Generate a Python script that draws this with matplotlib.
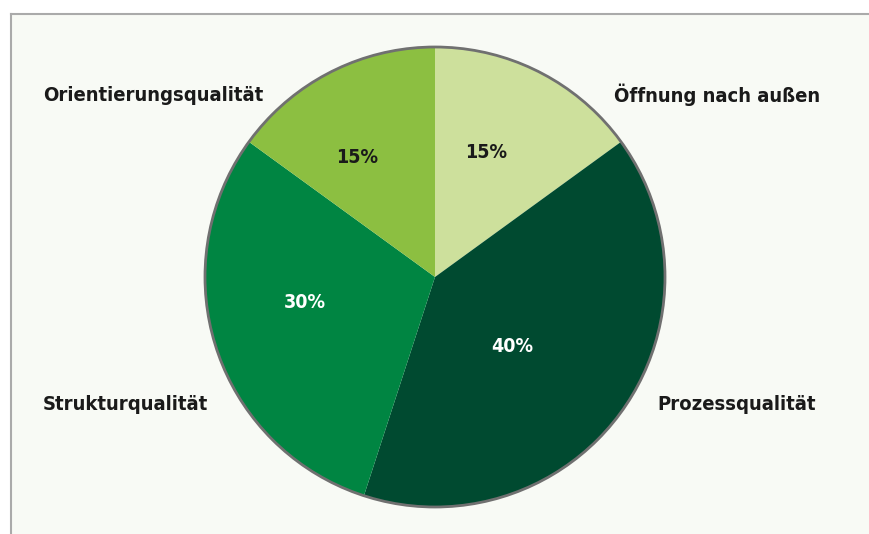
import matplotlib
matplotlib.use("Agg")
import matplotlib.pyplot as plt
from matplotlib.patches import Circle

# shares of the four quality dimensions, clockwise from 12 o'clock
labels = ["Öffnung nach außen", "Prozessqualität", "Strukturqualität", "Orientierungsqualität"]
shares = [15, 40, 30, 15]
colors = ["#cde09c", "#004a30", "#008542", "#8cbf41"]
pct_colors = ["#1a1a1a", "white", "white", "#1a1a1a"]

plt.rcParams['font.family'] = ['DejaVu Sans']
plt.rcParams['font.stretch'] = 'condensed'

W, H = 870, 534
fig = plt.figure(figsize=(W / 100, H / 100), dpi=100)
fig.patch.set_facecolor("white")
ax = fig.add_axes([0, 0, 1, 1])

# panel background with a grey rule along top and left
ax.add_patch(plt.Rectangle((11, 0), W - 11, H - 14, facecolor="#f8faf5", edgecolor="none", zorder=0))
ax.plot([11, W], [H - 14, H - 14], color="#aaaaaa", lw=1.5, zorder=1)
ax.plot([11, 11], [0, H - 14], color="#aaaaaa", lw=1.5, zorder=1)

cx, cy, r = 435, H - 277, 230
wedges, texts, autotexts = ax.pie(shares, colors=colors, startangle=90, counterclock=False,
                                  center=(cx, cy), radius=r, autopct="%d%%", pctdistance=0.58,
                                  wedgeprops=dict(linewidth=0), frame=True)
ax.set_xlim(0, W)
ax.set_ylim(0, H)
ax.set_aspect("equal")
ax.axis("off")
ax.add_patch(Circle((cx, cy), r, facecolor="none", edgecolor="#707070", lw=2, zorder=3))

pct_pos = [(486, 152), (512, 347), (305, 302), (357, 157)]
for t, (px, py), c in zip(autotexts, pct_pos, pct_colors):
    t.set_position((px, H - py))
    t.set_color(c)
    t.set_fontsize(14)
    t.set_fontweight("bold")
    t.set_ha("center")
    t.set_va("center")

label_pos = [(614, 95), (657, 405), (43, 405), (43, 95)]
for name, (lx, ly) in zip(labels, label_pos):
    ax.text(lx, H - ly, name, fontsize=14.5, fontweight="bold", color="#1a1a1a", ha="left", va="center")

fig.savefig("out.png", dpi=100)
